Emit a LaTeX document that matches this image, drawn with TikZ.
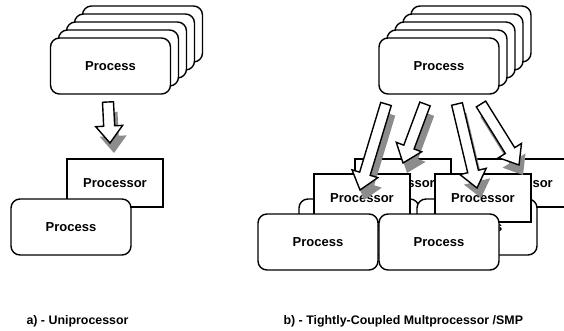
\documentclass[tikz,border=0pt]{standalone}
\usepackage{fontspec}
\setmainfont{Liberation Sans}
\usetikzlibrary{calc}

% hollow block arrow, #2 = tail, #3 = tip
\newcommand{\blockarrow}[3]{%
  \coordinate (#2base) at ($(#3)!17pt!(#2)$);
  \path[#1] ($(#2)!5.5pt!90:(#3)$) -- ($(#2base)!5.5pt!90:(#3)$)
    -- ($(#2base)!13.5pt!90:(#3)$) -- (#3)
    -- ($(#2base)!13.5pt!-90:(#3)$) -- ($(#2base)!5.5pt!-90:(#3)$)
    -- ($(#2)!5.5pt!-90:(#3)$) -- cycle;
}
% block arrow with its grey shadow
\newcommand{\flowarrow}[2]{%
  \coordinate (#1sh) at ($(#1)+(4,10)$);
  \coordinate (#2sh) at ($(#2)+(4,10)$);
  \blockarrow{arrowshadow}{#1sh}{#2sh}
  \blockarrow{arrowbody}{#1}{#2}
}

\begin{document}
\begin{tikzpicture}[x=1pt,y=-1pt,
    procbox/.style={draw,fill=white,rounded corners=9pt,line width=1.4pt,
      minimum width=120pt,minimum height=56pt,font=\bfseries\fontsize{13}{15}\selectfont},
    cpubox/.style={draw,fill=white,line width=1.4pt,
      minimum width=96pt,minimum height=48pt,font=\bfseries\fontsize{13}{15}\selectfont},
    arrowbody/.style={draw,fill=white,line width=1.4pt,line join=miter},
    arrowshadow/.style={fill=black!45},
    caption/.style={anchor=base west,font=\bfseries\fontsize{12.4}{14}\selectfont}]
    \useasboundingbox (0,0) rectangle (564,331);
    \clip (0,0) rectangle (564,331);

    % a) Process stack
    \foreach \k in {4,3,2,1} {
        \node[procbox] (aproc\k) at (110.5+8*\k,66-8*\k) {};
    }
    \node[procbox] (aproc0) at (110.5,66) {Process};

    % a) Processor and process
    \node[cpubox] (acpu) at (115,183) {Processor};
    \node[procbox] (aproc) at (71,227) {Process};

    % b) Process stack
    \foreach \k in {4,3,2,1} {
        \node[procbox] (bproc\k) at (439+8*\k,66-8*\k) {};
    }
    \node[procbox] (bproc0) at (439,66) {Process};

    % b) Processors with their processes (back to front)
    \foreach \n/\x/\y in {1/403/183,2/521/183,3/362/198,4/483/198} {
        \node[cpubox] (bcpu\n) at (\x,\y) {Processor};
        \node[procbox] (bpr\n) at (\x-44,\y+44) {Process};
    }

    % Arrows
    \coordinate (atail) at (108,102);
    \coordinate (atip) at (110,143);
    \flowarrow{atail}{atip}
    \foreach \i/\xa/\xb/\yb in {1/386/360/190,2/425/403/163,3/457/477/188,4/481/519/165} {
        \coordinate (btail\i) at (\xa,104);
        \coordinate (btip\i) at (\xb,\yb);
        \flowarrow{btail\i}{btip\i}
    }

    % Captions
    \node[caption] (capa) at (23,324) {a) - Uniprocessor};
    \node[caption] (capb) at (280,324) {b) - Tightly-Coupled Multprocessor /SMP};
\end{tikzpicture}
\end{document}
